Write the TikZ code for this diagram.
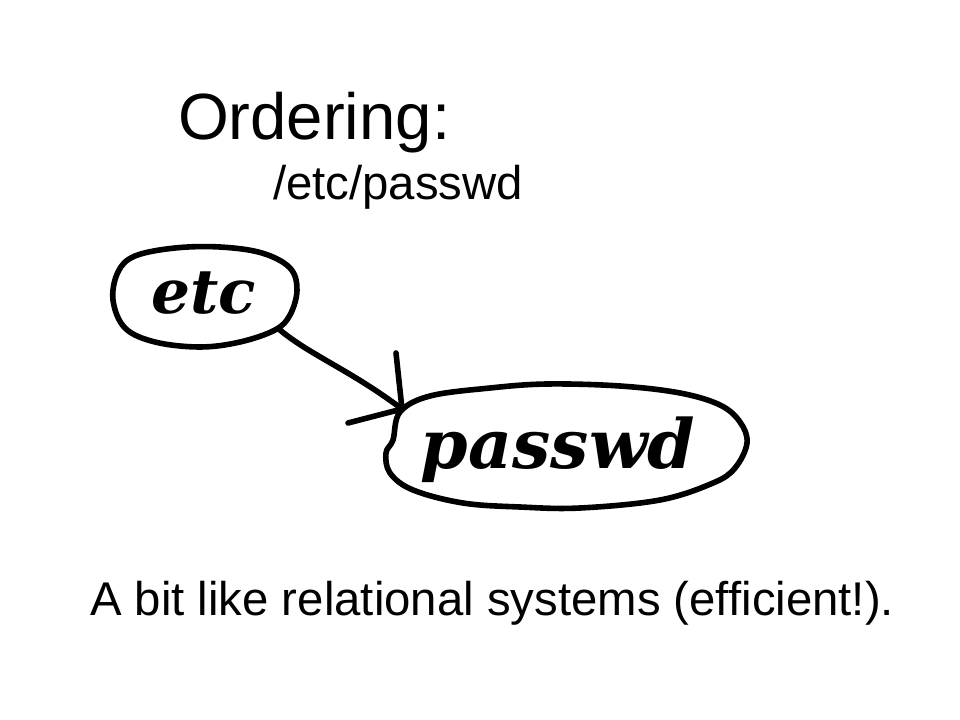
\documentclass[tikz,border=0pt]{standalone}
\usepackage{fontspec}
\setmainfont{Liberation Sans}
\newfontfamily\handfont{DejaVu Serif}
\usetikzlibrary{shapes.geometric}
\tikzset{
  px/.style={x=0.75pt,y=-0.75pt},
  hand/.style={line width=4.2pt,line cap=round,line join=round,black},
  txt/.style={anchor=base west,inner sep=0pt,outer sep=0pt},
  lbl/.style={inner sep=0pt,anchor=base,font=\handfont\bfseries\itshape\fontsize{#1}{#1}\selectfont},
}
\begin{document}
\begin{tikzpicture}[px]
\useasboundingbox (0,0) rectangle (960,720);
\fill[white] (0,0) rectangle (960,720);
% texts
\node[txt,font=\fontsize{49}{49}\selectfont] (title) at (178,140) {Ordering:};
\node[txt,font=\fontsize{35.5}{35.5}\selectfont] (path) at (273,200) {/etc/passwd};
\node[txt,font=\fontsize{35.5}{35.5}\selectfont] (note) at (90,615) {A bit like relational systems (efficient!).};
% node labels
\node[lbl=46] (etc) at (204,313) {etc};
\node[lbl=51] (passwd) at (558,468) {passwd};
% hand-drawn outlines
\draw[hand] plot[smooth cycle,tension=0.6] coordinates {
  (113,300) (118,272) (135,256) (175,248) (220,247) (262,253) (290,268)
  (297,290) (290,315) (275,330) (240,342) (200,347) (155,342) (125,328)};
\draw[hand] plot[smooth cycle,tension=0.6] coordinates {
  (386,453) (393,440) (400,412) (430,396) (490,388) (547,384) (620,386)
  (680,393) (720,405) (740,422) (747,443) (735,468) (713,483) (660,500)
  (580,508) (520,507) (463,503) (413,490) (390,473)};
% connector
\coordinate (start) at (280,330);
\coordinate (tip) at (402,409);
\coordinate (barbA) at (396,353);
\coordinate (barbB) at (348,423);
\draw[hand] (start) .. controls (310,355) and (350,370) .. (tip);
\draw[hand] (barbA) -- (tip) -- (barbB);
\end{tikzpicture}
\end{document}
